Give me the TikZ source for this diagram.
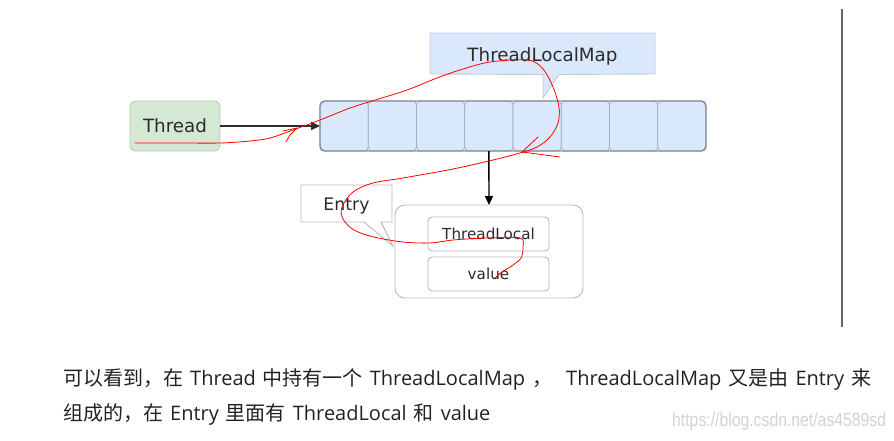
\documentclass[tikz,border=0pt]{standalone}
\usepackage{fontspec}
\setmainfont{DejaVu Sans}
\newfontfamily\cjk{Noto Sans CJK SC}
\newfontfamily\lat{Open Sans}
\newfontfamily\wm{Liberation Sans}
\usetikzlibrary{backgrounds,arrows.meta}
\newcommand\setgap{\spaceskip=7pt plus 0pt minus 0pt\relax}
\newcommand\dropby[2]{\raisebox{-#1}[\height][\depth]{#2}}
\definecolor{txt}{HTML}{2B2B2B}
\definecolor{bodytxt}{HTML}{222222}
\definecolor{greenfill}{HTML}{D5E8D4}
\definecolor{greenline}{HTML}{B9CCB2}
\definecolor{bluefill}{HTML}{DAE8FC}
\definecolor{cellline}{HTML}{A3ADBD}
\definecolor{arrayline}{HTML}{858E9C}
\definecolor{calline}{HTML}{C3CBD8}
\definecolor{grayline}{HTML}{B8B8BE}
\definecolor{wmgray}{HTML}{D2D2D2}
\tikzset{
  box/.style={rectangle, inner sep=0pt, outer sep=0pt, text=txt},
  threadbox/.style={box, rounded corners=6pt, fill=greenfill, draw=greenline, line width=0.9pt,
    minimum width=90pt, minimum height=50pt, font=\fontsize{18.3}{20}\selectfont},
  cellbox/.style={box, rounded corners=4pt, fill=bluefill, draw=cellline, line width=0.8pt,
    minimum width=48.25pt, minimum height=50pt},
  arrayborder/.style={draw=arrayline, rounded corners=5pt, line width=1.4pt},
  calltext/.style={box, minimum width=225pt, minimum height=41pt, font=\fontsize{18.3}{20}\selectfont},
  tlmshape/.style={fill=bluefill, draw=calline, line width=0.9pt},
  entrytext/.style={box, minimum width=91pt, minimum height=37pt, font=\fontsize{17.3}{20}\selectfont},
  entryshape/.style={fill=white, draw=grayline, line width=0.9pt},
  entrybox/.style={box, rounded corners=10pt, draw=grayline, fill=white, line width=0.9pt,
    minimum width=188pt, minimum height=93pt},
  innerbox/.style={box, rounded corners=4pt, draw=grayline, fill=white, line width=0.9pt,
    minimum width=121pt, minimum height=34pt, font=\fontsize{15.2}{18}\selectfont},
  link/.style={-{Triangle[length=9pt,width=8pt]}, line width=1.5pt, draw=txt},
  downlink/.style={-{Triangle[length=9pt,width=8pt]}, line width=1.4pt, draw=black},
  scribble/.style={draw=red, line width=0.8pt, line cap=round, line join=round},
  body/.style={inner sep=0pt, anchor=base west, text=bodytxt,
    font=\cjk\fontsize{20}{24}\selectfont},
  wmark/.style={inner sep=0pt, anchor=west, text=wmgray, font=\wm\fontsize{19}{21}\selectfont},
  sideline/.style={draw=black!60, line width=1.6pt}
}
\begin{document}
\begin{tikzpicture}[x=1pt,y=-1pt]
\useasboundingbox (0,0) rectangle (894,440);

% Thread
\node[threadbox] (thread) at (175,126) {Thread};

% array of entries
\foreach \i in {1,...,8}
  \node[cellbox] (c\i) at ({320+48.25*(\i-0.5)},126) {};
\draw[arrayborder] (c1.north west) rectangle (c8.south east);

% ThreadLocalMap callout
\node[calltext] (tlm) at (542.5,53.5) {\dropby{3pt}{ThreadLocalMap}};
\coordinate (tlmA) at (543,74.5);
\coordinate (tlmB) at (559,74.5);
\coordinate (tlmtip) at (543,98);
\begin{pgfonlayer}{background}
\draw[tlmshape] (tlm.north west) -- (tlm.north east) -- (tlm.south east) -- (tlmB) -- (tlmtip) -- (tlmA) -- (tlm.south west) -- cycle;
\end{pgfonlayer}

% Entry structure
\node[entrybox] (entry) at (489,251.5) {};
\node[innerbox] (tl) at (488.5,234) {ThreadLocal};
\node[innerbox] (val) at (488.5,274) {value};

% Entry callout
\node[entrytext] (entrylbl) at (346.5,203.5) {\dropby{2pt}{Entry}};
\coordinate (eA) at (364,222);
\coordinate (eB) at (381,222);
\coordinate (etip) at (393,246);
\begin{pgfonlayer}{background}
\draw[entryshape] (entrylbl.north west) -- (entrylbl.north east) -- (entrylbl.south east) -- (eB) -- (etip) -- (eA) -- (entrylbl.south west) -- cycle;
\end{pgfonlayer}

% connectors
\draw[link] (thread.east) -- (c1.west);
\draw[downlink] (c4.south) -- (entry.north);

% side rule
\coordinate (ruletop) at (842,9);
\coordinate (rulebot) at (842,327);
\draw[sideline] (ruletop) -- (rulebot);

% red freehand annotation
\draw[scribble] plot[smooth, tension=0.55] coordinates {
  (135,143) (180,143) (220,143) (250,141) (270,138) (293,130) (320,120) (350,108)
  (372,101) (407,90) (437,78) (460,70) (490,62) (528,60) (543,69) (553,87)
  (559,107) (558,123) (550,137) (537,147) (520,153) (493,160) (453,169) (403,178)
  (373,183) (353,192) (342,207) (343,219) (354,230) (374,237) (403,242) (430,243)
  (453,240) (487,238) (520,238) (523,247) (521,258) (513,265) (502,272) (495,278)};
\draw[scribble] (286,142) -- (290,135) -- (297,128);
\draw[scribble] (283,131) -- (297,128);
\draw[scribble] (538,137) -- (522,152);
\draw[scribble] (522,152) -- (545,155) -- (560,157);

% caption text
\node[body] (line1) at (63,385) {\setgap 可以看到，在 {\lat Thread} 中持有一个 {\lat ThreadLocalMap} ，\ \ {\lat ThreadLocalMap} 又是由 {\lat Entry} 来};
\node[body] (line2) at (63,420) {\setgap 组成的，在 {\lat Entry} 里面有 {\lat ThreadLocal} 和 {\lat value}};
\node[wmark] (wm) at (672,422) {\scalebox{0.83}[1]{https://blog.csdn.net/as4589sd}};
\end{tikzpicture}
\end{document}
